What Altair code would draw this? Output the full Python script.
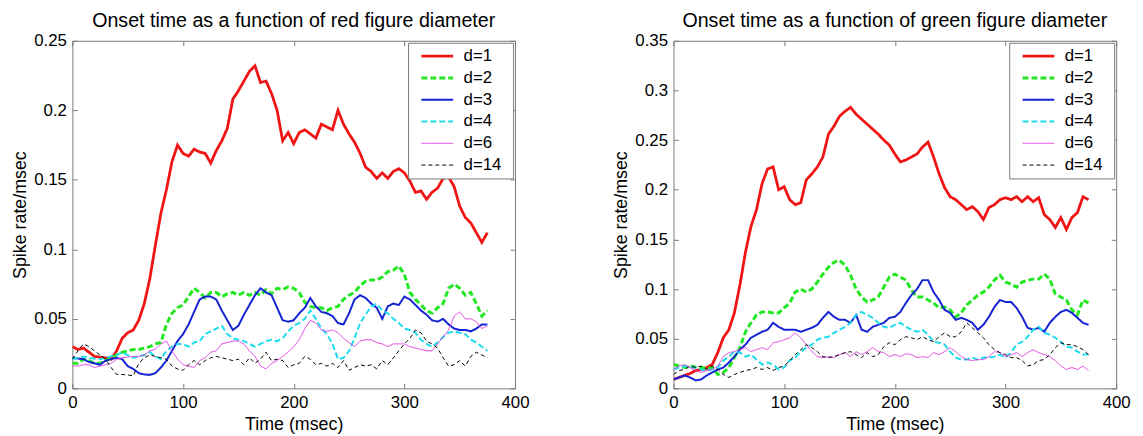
import altair as alt
import pandas as pd

# time axis (msec), sampled every 5 ms
T = list(range(0, 380, 5))

LABELS = ["d=1", "d=2", "d=3", "d=4", "d=6", "d=14"]

# ---- red figure ----
red_d1 = [0.030, 0.028, 0.029, 0.026, 0.023, 0.0225, 0.022, 0.021, 0.027, 0.036,
          0.040, 0.042, 0.049, 0.061, 0.079, 0.103, 0.126, 0.143, 0.163, 0.175,
          0.169, 0.167, 0.172, 0.170, 0.169, 0.162, 0.171, 0.178, 0.187, 0.208,
          0.214, 0.221, 0.228, 0.232, 0.220, 0.221, 0.212, 0.200, 0.178, 0.184,
          0.176, 0.184, 0.186, 0.183, 0.180, 0.190, 0.188, 0.186, 0.200, 0.190,
          0.183, 0.177, 0.169, 0.159, 0.156, 0.151, 0.155, 0.151, 0.156, 0.158,
          0.155, 0.149, 0.141, 0.142, 0.136, 0.141, 0.144, 0.151, 0.152, 0.145,
          0.131, 0.123, 0.119, 0.112, 0.105, 0.112]
red_d2 = [0.018, 0.018, 0.021, 0.020, 0.018, 0.018, 0.020, 0.022, 0.024, 0.026,
          0.027, 0.028, 0.028, 0.029, 0.030, 0.032, 0.033, 0.046, 0.054, 0.058,
          0.060, 0.066, 0.072, 0.069, 0.065, 0.069, 0.069, 0.066, 0.068, 0.069,
          0.067, 0.069, 0.067, 0.069, 0.067, 0.071, 0.068, 0.072, 0.071, 0.073,
          0.072, 0.069, 0.062, 0.059, 0.058, 0.058, 0.056, 0.058, 0.059, 0.064,
          0.067, 0.069, 0.074, 0.077, 0.078, 0.078, 0.080, 0.084, 0.085, 0.088,
          0.082, 0.069, 0.064, 0.060, 0.056, 0.054, 0.058, 0.061, 0.072, 0.075,
          0.072, 0.067, 0.069, 0.061, 0.052, 0.056]
red_d3 = [0.022, 0.0215, 0.021, 0.019, 0.018, 0.017, 0.020, 0.021, 0.022, 0.021,
          0.016, 0.014, 0.011, 0.010, 0.0097, 0.011, 0.015, 0.020, 0.027, 0.034,
          0.039, 0.046, 0.055, 0.064, 0.066, 0.066, 0.064, 0.056, 0.049, 0.042,
          0.045, 0.053, 0.060, 0.067, 0.072, 0.069, 0.067, 0.058, 0.049, 0.048,
          0.049, 0.054, 0.058, 0.065, 0.059, 0.055, 0.054, 0.052, 0.047, 0.046,
          0.054, 0.064, 0.067, 0.065, 0.061, 0.058, 0.050, 0.059, 0.061, 0.060,
          0.066, 0.064, 0.060, 0.056, 0.053, 0.049, 0.048, 0.050, 0.046, 0.043,
          0.042, 0.042, 0.041, 0.043, 0.046, 0.046]
red_d4 = [0.021, 0.022, 0.023, 0.022, 0.0213, 0.021, 0.022, 0.023, 0.024, 0.026,
          0.024, 0.022, 0.023, 0.024, 0.026, 0.023, 0.021, 0.027, 0.030, 0.032,
          0.032, 0.030, 0.033, 0.034, 0.039, 0.041, 0.043, 0.045, 0.039, 0.036,
          0.035, 0.034, 0.032, 0.030, 0.032, 0.034, 0.035, 0.034, 0.036, 0.041,
          0.045, 0.047, 0.050, 0.056, 0.050, 0.043, 0.039, 0.032, 0.021, 0.022,
          0.027, 0.036, 0.047, 0.053, 0.059, 0.061, 0.056, 0.054, 0.050, 0.047,
          0.043, 0.042, 0.040, 0.035, 0.032, 0.030, 0.033, 0.037, 0.040, 0.041,
          0.040, 0.039, 0.035, 0.033, 0.030, 0.027]
red_d6 = [0.016, 0.016, 0.017, 0.017, 0.015, 0.016, 0.017, 0.018, 0.021, 0.022,
          0.0225, 0.023, 0.023, 0.024, 0.027, 0.028, 0.032, 0.034, 0.027, 0.021,
          0.017, 0.016, 0.015, 0.020, 0.022, 0.026, 0.027, 0.032, 0.033, 0.034,
          0.034, 0.032, 0.027, 0.023, 0.016, 0.014, 0.018, 0.020, 0.023, 0.026,
          0.030, 0.035, 0.043, 0.049, 0.047, 0.042, 0.041, 0.042, 0.040, 0.036,
          0.033, 0.030, 0.034, 0.035, 0.035, 0.033, 0.032, 0.030, 0.032, 0.032,
          0.032, 0.030, 0.029, 0.028, 0.027, 0.027, 0.032, 0.037, 0.042, 0.052,
          0.055, 0.050, 0.050, 0.048, 0.043, 0.045]
red_d14 = [0.021, 0.027, 0.032, 0.030, 0.027, 0.024, 0.021, 0.015, 0.010, 0.010,
           0.0097, 0.009, 0.018, 0.022, 0.024, 0.023, 0.022, 0.021, 0.016, 0.014,
           0.013, 0.017, 0.020, 0.017, 0.020, 0.022, 0.023, 0.022, 0.021, 0.020,
           0.021, 0.017, 0.022, 0.018, 0.021, 0.026, 0.020, 0.021, 0.020, 0.015,
           0.017, 0.018, 0.023, 0.021, 0.017, 0.018, 0.016, 0.018, 0.015, 0.020,
           0.013, 0.015, 0.017, 0.016, 0.017, 0.014, 0.020, 0.017, 0.022, 0.027,
           0.032, 0.036, 0.042, 0.040, 0.034, 0.032, 0.029, 0.022, 0.016, 0.017,
           0.020, 0.016, 0.023, 0.026, 0.024, 0.022]

# ---- green figure ----
green_d1 = [0.009, 0.011, 0.013, 0.015, 0.018, 0.019, 0.021, 0.024, 0.036, 0.051,
            0.059, 0.076, 0.104, 0.137, 0.163, 0.180, 0.206, 0.221, 0.223, 0.200,
            0.203, 0.190, 0.185, 0.187, 0.210, 0.216, 0.223, 0.233, 0.256, 0.264,
            0.274, 0.279, 0.283, 0.276, 0.271, 0.266, 0.261, 0.256, 0.250, 0.245,
            0.236, 0.228, 0.230, 0.233, 0.236, 0.243, 0.248, 0.233, 0.216, 0.202,
            0.193, 0.190, 0.185, 0.180, 0.183, 0.178, 0.170, 0.182, 0.185, 0.190,
            0.192, 0.190, 0.193, 0.188, 0.193, 0.188, 0.192, 0.175, 0.170, 0.162,
            0.172, 0.160, 0.172, 0.177, 0.193, 0.190]
green_d2 = [0.024, 0.0225, 0.021, 0.0225, 0.0215, 0.021, 0.020, 0.021, 0.014, 0.016,
            0.021, 0.031, 0.041, 0.057, 0.066, 0.074, 0.077, 0.077, 0.076, 0.076,
            0.081, 0.086, 0.097, 0.100, 0.097, 0.100, 0.107, 0.115, 0.122, 0.127,
            0.129, 0.124, 0.114, 0.100, 0.092, 0.087, 0.089, 0.092, 0.102, 0.112,
            0.115, 0.112, 0.109, 0.099, 0.092, 0.092, 0.089, 0.086, 0.081, 0.082,
            0.079, 0.072, 0.076, 0.084, 0.089, 0.094, 0.097, 0.102, 0.109, 0.114,
            0.107, 0.105, 0.102, 0.107, 0.109, 0.110, 0.110, 0.115, 0.110, 0.095,
            0.092, 0.089, 0.079, 0.074, 0.089, 0.086]
green_d3 = [0.009, 0.011, 0.013, 0.011, 0.008, 0.009, 0.013, 0.016, 0.019, 0.021,
            0.026, 0.032, 0.039, 0.044, 0.051, 0.054, 0.057, 0.059, 0.066, 0.062,
            0.059, 0.059, 0.059, 0.057, 0.059, 0.061, 0.064, 0.071, 0.077, 0.072,
            0.069, 0.069, 0.066, 0.074, 0.059, 0.057, 0.062, 0.064, 0.066, 0.071,
            0.072, 0.077, 0.086, 0.094, 0.100, 0.109, 0.109, 0.097, 0.089, 0.079,
            0.076, 0.069, 0.071, 0.069, 0.066, 0.059, 0.064, 0.072, 0.082, 0.089,
            0.087, 0.087, 0.081, 0.072, 0.061, 0.059, 0.061, 0.057, 0.066, 0.072,
            0.077, 0.079, 0.076, 0.071, 0.066, 0.064]
green_d4 = [0.019, 0.021, 0.0225, 0.021, 0.021, 0.019, 0.018, 0.019, 0.021, 0.028,
            0.032, 0.037, 0.036, 0.032, 0.034, 0.029, 0.024, 0.026, 0.024, 0.019,
            0.021, 0.028, 0.031, 0.037, 0.041, 0.044, 0.049, 0.051, 0.052, 0.056,
            0.059, 0.062, 0.066, 0.074, 0.077, 0.074, 0.071, 0.066, 0.062, 0.061,
            0.064, 0.066, 0.062, 0.059, 0.057, 0.059, 0.054, 0.047, 0.046, 0.044,
            0.037, 0.031, 0.029, 0.029, 0.031, 0.029, 0.031, 0.031, 0.032, 0.034,
            0.031, 0.036, 0.044, 0.047, 0.052, 0.059, 0.062, 0.056, 0.054, 0.051,
            0.047, 0.042, 0.041, 0.037, 0.034, 0.034]
green_d6 = [0.019, 0.0225, 0.024, 0.021, 0.018, 0.016, 0.018, 0.019, 0.0225, 0.032,
            0.036, 0.037, 0.039, 0.041, 0.037, 0.039, 0.041, 0.039, 0.046, 0.047,
            0.049, 0.051, 0.056, 0.051, 0.044, 0.037, 0.032, 0.031, 0.032, 0.031,
            0.034, 0.036, 0.032, 0.037, 0.034, 0.037, 0.041, 0.037, 0.036, 0.032,
            0.034, 0.032, 0.035, 0.034, 0.031, 0.032, 0.031, 0.036, 0.034, 0.037,
            0.041, 0.037, 0.032, 0.029, 0.028, 0.029, 0.029, 0.032, 0.037, 0.036,
            0.032, 0.034, 0.036, 0.032, 0.036, 0.039, 0.036, 0.034, 0.032, 0.028,
            0.0225, 0.019, 0.021, 0.019, 0.0225, 0.018]
green_d14 = [0.014, 0.018, 0.019, 0.0225, 0.021, 0.0225, 0.019, 0.0225, 0.019, 0.014,
             0.011, 0.014, 0.016, 0.018, 0.019, 0.021, 0.019, 0.021, 0.018, 0.021,
             0.0225, 0.028, 0.034, 0.039, 0.044, 0.041, 0.037, 0.032, 0.031, 0.032,
             0.034, 0.036, 0.037, 0.034, 0.031, 0.036, 0.032, 0.034, 0.042, 0.046,
             0.044, 0.049, 0.052, 0.051, 0.049, 0.052, 0.049, 0.047, 0.052, 0.056,
             0.052, 0.052, 0.057, 0.066, 0.061, 0.056, 0.051, 0.044, 0.039, 0.036,
             0.034, 0.031, 0.031, 0.028, 0.0225, 0.024, 0.028, 0.029, 0.034, 0.041,
             0.046, 0.044, 0.044, 0.042, 0.039, 0.034]

COLORS = ["#f01414", "#22e622", "#1424d2", "#1edcec", "#e040e0", "#000000"]
DASHES = [[1, 0], [6, 3], [1, 0], [6, 3], [1, 0], [4, 3]]
WIDTHS = [2.8, 3.0, 2.0, 2.0, 1.0, 1.0]

FONT = "Liberation Sans"
FRAME = "#7a7a7a"


def long_df(series):
    rows = []
    for label, vals in zip(LABELS, series):
        for t, v in zip(T, vals):
            rows.append({"t": t, "v": v, "d": label})
    return pd.DataFrame(rows)


def panel(series, title, ymax):
    df = long_df(series)
    yticks = [round(0.05 * i, 2) for i in range(int(round(ymax / 0.05)) + 1)]
    xticks = [0, 100, 200, 300, 400]
    xs = alt.Scale(domain=[0, 400], nice=False)
    ys = alt.Scale(domain=[0, ymax], nice=False)
    leg = dict(title="   ", titleOrient="right", titlePadding=7, titleFontSize=17)

    base = alt.Chart(df)
    lines = base.mark_line(clip=True).encode(
        x=alt.X("t:Q", scale=xs, axis=alt.Axis(
            values=xticks, ticks=False, domain=False, grid=False, labelFlush=False,
            labelOverlap=False, title="Time (msec)", labelPadding=6, titlePadding=6)),
        y=alt.Y("v:Q", scale=ys, axis=alt.Axis(
            values=yticks, format="~g", ticks=False, domain=False, grid=False,
            labelOverlap=False, title="Spike rate/msec", labelPadding=6,
            titlePadding=4)),
        color=alt.Color("d:N", sort=LABELS,
                        scale=alt.Scale(domain=LABELS, range=COLORS),
                        legend=alt.Legend(**leg)),
        strokeDash=alt.StrokeDash("d:N", sort=LABELS,
                                  scale=alt.Scale(domain=LABELS, range=DASHES),
                                  legend=alt.Legend(**leg)),
        strokeWidth=alt.StrokeWidth("d:N", sort=LABELS,
                                    scale=alt.Scale(type="ordinal", domain=LABELS, range=WIDTHS),
                                    legend=alt.Legend(**leg)),
    )

    def tick_layer(xo, yo):
        return base.mark_line(strokeOpacity=0).encode(
            x=alt.X("t:Q", scale=xs, axis=alt.Axis(
                orient=xo, values=xticks, offset=-5, tickSize=5, labels=False,
                domain=False, grid=False, title=None, tickColor=FRAME)),
            y=alt.Y("v:Q", scale=ys, axis=alt.Axis(
                orient=yo, values=yticks, offset=-5, tickSize=5, labels=False,
                domain=False, grid=False, title=None, tickColor=FRAME)),
            detail="d:N",
        )

    return alt.layer(lines, tick_layer("bottom", "left"), tick_layer("top", "right")).resolve_axis(
        x="independent", y="independent"
    ).properties(
        width=447, height=351,
        title=alt.TitleParams(title, fontSize=19.8, font=FONT, fontWeight="normal",
                              anchor="middle", offset=1, color="black"),
    )


left = panel([red_d1, red_d2, red_d3, red_d4, red_d6, red_d14],
             "Onset time as a function of red figure diameter", 0.25)
right = panel([green_d1, green_d2, green_d3, green_d4, green_d6, green_d14],
              "Onset time as a function of green figure diameter", 0.35)

chart = alt.hconcat(left, right, spacing=160, bounds="flush").resolve_scale(
    x="independent", y="independent", color="independent",
    strokeDash="independent", strokeWidth="independent",
).resolve_legend(
    color="independent", strokeDash="independent", strokeWidth="independent"
).properties(
    padding={"left": 3, "top": 0, "right": 4, "bottom": 0},
).configure_view(
    stroke=FRAME, strokeWidth=1
).configure_axis(
    labelFont=FONT, titleFont=FONT, labelFontSize=17, titleFontSize=18,
    labelColor="black", titleColor="black", titleFontWeight="normal",
).configure_legend(
    orient="top-right", offset=2, padding=5, fillColor="white",
    strokeColor=FRAME, symbolType="M0,0H8", symbolSize=64,
    labelFont=FONT, labelFontSize=17, labelColor="black", labelOffset=34,
    rowPadding=4,
)

chart.save("out.html", embed_options={"renderer": "svg", "actions": False})
